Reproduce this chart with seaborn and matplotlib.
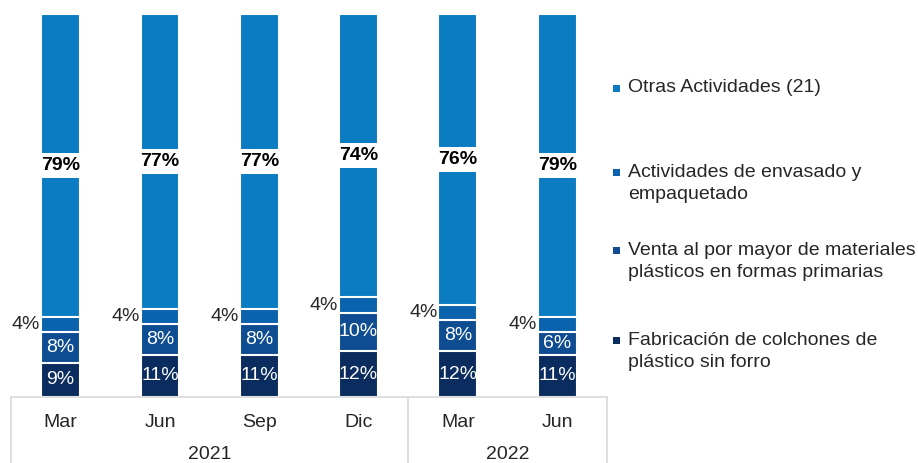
import pandas as pd
import matplotlib.pyplot as plt
import matplotlib.patches as mpatches
import seaborn as sns

# data (percent of total)
months = ['Mar', 'Jun', 'Sep', 'Dic', 'Mar', 'Jun']
years = ['2021', '2021', '2021', '2021', '2022', '2022']
fabricacion = [9, 11, 11, 12, 12, 11]
venta = [8, 8, 8, 10, 8, 6]
envasado = [4, 4, 4, 4, 4, 4]
otras = [79, 77, 77, 74, 76, 79]

series_names = ['Otras Actividades (21)',
                'Actividades de envasado y\nempaquetado',
                'Venta al por mayor de materiales\npl\u00e1sticos en formas primarias',
                'Fabricaci\u00f3n de colchones de\npl\u00e1stico sin forro']
colors = ['#0B7CC2', '#0B63AE', '#0F4D92', '#0B2C5F']

sns.set_theme(style='white')
plt.rcParams['font.family'] = ['Liberation Sans', 'DejaVu Sans']

df = pd.DataFrame({'period': [f'{m} {y}' for m, y in zip(months, years)],
                   'fab': fabricacion, 'venta': venta,
                   'env': envasado, 'otras': otras})
df['c1'] = df['fab']
df['c2'] = df['c1'] + df['venta']
df['c3'] = df['c2'] + df['env']
df['c4'] = df['c3'] + df['otras']

fig = plt.figure(figsize=(9.18, 4.63), dpi=100)
ax = fig.add_axes([0.012, 0.1425, 0.649, 0.8275])

# stacked bars drawn as overlaid cumulative totals
for col, color in zip(['c4', 'c3', 'c2', 'c1'], colors):
    sns.barplot(data=df, x='period', y=col, color=color, saturation=1,
                width=0.39, edgecolor='white', linewidth=1.5,
                errorbar=None, ax=ax)

fs = 14
ax.set_ylim(0, 100)
ax.set_xlim(-0.5, len(months) - 0.5)
ax.set_ylabel('')
ax.set_xlabel('')
ax.set_yticks([])
ax.set_xticks(range(len(months)))
ax.set_xticklabels(months, fontsize=fs, color='#262626')
ax.tick_params(axis='x', length=0, pad=12)
for s in ax.spines.values():
    s.set_visible(False)

# value labels
half = 0.39 / 2
for i, row in df.iterrows():
    ax.text(i, row['fab'] / 2, f"{row['fab']}%", ha='center', va='center',
            color='white', fontsize=fs)
    ax.text(i, row['c1'] + row['venta'] / 2, f"{row['venta']}%", ha='center',
            va='center', color='white', fontsize=fs)
    ax.text(i - half - 0.01, row['c2'] + row['env'] / 2, f"{row['env']}%",
            ha='right', va='center', color='#262626', fontsize=fs)
    ax.text(i, row['c3'] + row['otras'] / 2, f"{row['otras']}%", ha='center',
            va='center', color='black', fontsize=fs, fontweight='bold',
            bbox=dict(facecolor='white', edgecolor='none', pad=3))

# category axis box with year groups
trans = ax.get_xaxis_transform()
grid = '#D9D9D9'
ax.plot([-0.5, 5.5], [0, 0], color=grid, lw=1.2, transform=trans, clip_on=False)
for xv in [-0.5, 3.5, 5.5]:
    ax.plot([xv, xv], [0, -0.175], color=grid, lw=1.2, transform=trans,
            clip_on=False)
for label, xc in [('2021', 1.5), ('2022', 4.5)]:
    ax.text(xc, -0.15, label, transform=trans, ha='center', va='center',
            fontsize=fs, color='#262626')

# legend placed by hand: square on first line, text block centred
square_y = [0.810, 0.6285, 0.460, 0.2657]
text_y = [0.810, 0.6037, 0.4352, 0.2408]
for name, color, sy, ty in zip(series_names, colors, square_y, text_y):
    fig.patches.append(mpatches.Rectangle((0.668, sy - 0.008), 0.0075, 0.015,
                                          transform=fig.transFigure,
                                          facecolor=color, edgecolor='none'))
    fig.text(0.684, ty, name, ha='left', va='center', fontsize=fs,
             color='#262626', linespacing=1.4)

fig.savefig('out.png', dpi=100)
